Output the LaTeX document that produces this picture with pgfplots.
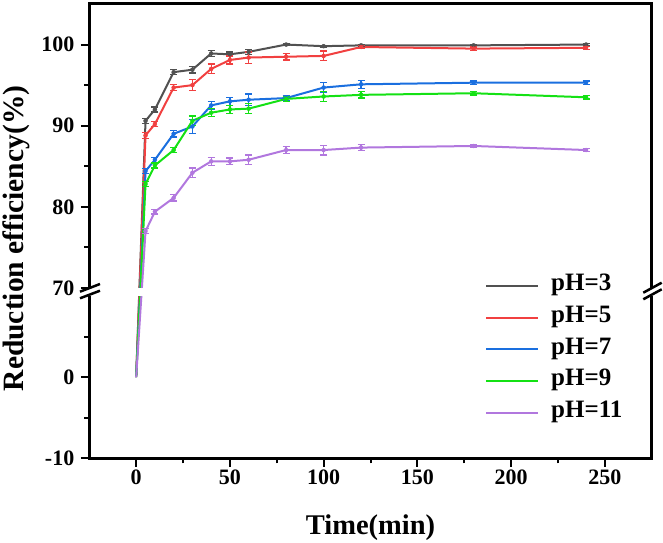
\documentclass[border=0pt]{standalone}
\usepackage{fontspec}
\setmainfont{Liberation Serif}
\usepackage{pgfplots}
\pgfplotsset{compat=1.18}
\usepackage{pgfplotstable}

\definecolor{cgray}{RGB}{81,81,81}
\definecolor{cred}{RGB}{241,64,64}
\definecolor{cblue}{RGB}{26,111,223}
\definecolor{cgreen}{RGB}{20,225,20}
\definecolor{cpurple}{RGB}{177,119,222}

\pgfplotstableread{
t y e
0 0 0
5 90.6 0.3
10 92.0 0.3
20 96.6 0.3
30 96.9 0.4
40 98.9 0.4
50 98.8 0.3
60 99.1 0.3
80 100.0 0.1
100 99.8 0.1
120 99.9 0.1
180 99.9 0.1
240 100.0 0.1
}\phthree
\pgfplotstableread{
t y e
0 0 0
5 88.8 0.4
10 90.2 0.3
20 94.7 0.4
30 95.0 0.7
40 97.0 0.6
50 98.1 0.5
60 98.4 0.7
80 98.5 0.4
100 98.6 0.6
120 99.7 0.2
180 99.5 0.2
240 99.6 0.2
}\phfive
\pgfplotstableread{
t y e
0 0 0
5 84.4 0.3
10 85.8 0.3
20 89.0 0.4
30 89.9 0.9
40 92.5 0.5
50 93.0 0.5
60 93.2 0.7
80 93.4 0.3
100 94.7 0.6
120 95.1 0.5
180 95.3 0.2
240 95.3 0.2
}\phseven
\pgfplotstableread{
t y e
0 0 0
5 82.8 0.3
10 85.1 0.3
20 87.0 0.3
30 90.6 0.6
40 91.6 0.5
50 92.0 0.5
60 92.1 0.6
80 93.3 0.3
100 93.6 0.6
120 93.8 0.4
180 94.0 0.2
240 93.5 0.2
}\phnine
\pgfplotstableread{
t y e
0 0 0
5 77.0 0.3
10 79.4 0.3
20 81.1 0.4
30 84.2 0.6
40 85.6 0.5
50 85.6 0.4
60 85.8 0.6
80 87.0 0.4
100 87.0 0.6
120 87.3 0.4
180 87.5 0.2
240 87.0 0.2
}\pheleven

\pgfplotsset{
  errstyle/.style={forget plot, only marks, mark=none, color=#1,
    restrict x to domain=1:300,
    error bars/.cd, y dir=both, y explicit,
    error bar style={color=#1, line width=1.3bp},
    error mark options={rotate=90, mark size=3.5bp, line width=1.3bp, color=#1}},
}

\begin{document}
\begin{tikzpicture}
\path[use as bounding box] (0,0) rectangle (663bp,543bp);
\begin{axis}[
  at={(89.3bp,84.7bp)}, anchor=south west,
  scale only axis, width=562.4bp, height=454.3bp,
  xmin=-25, xmax=275, ymin=-10, ymax=46,
  clip=false,
  axis line style={draw=none},
  xtick={0,50,...,250}, minor x tick num=1,
  ytick={-10,0,11,21,31,41}, yticklabels={-10,0,70,80,90,100},
  minor ytick={-5,5,16,26,36},
  xtick pos=bottom, ytick pos=left, tick align=outside,
  major tick length=8.5bp, minor tick length=5bp,
  tick style={black, line width=2bp},
  tick label style={font=\fontsize{22bp}{22bp}\selectfont\bfseries},
  yticklabel style={xshift=-3bp},
  /pgf/number format/assume math mode=true,
  y filter/.expression={y>40 ? y-59 : y},
  xlabel={Time(min)}, ylabel={Reduction efficiency(\%)},
  xlabel style={font=\fontsize{28.5bp}{28.5bp}\selectfont\bfseries,
    at={(axis description cs:0.5,-0.1688)}, anchor=base},
  ylabel style={font=\fontsize{29.5bp}{29.5bp}\selectfont\bfseries,
    at={(axis description cs:-0.1295,0.484)}, anchor=center},
  legend style={draw=none, fill=none, at={(axis description cs:0.7036,0.2401)},
    anchor=west, inner sep=0pt, row sep=11.7bp,
    font=\fontsize{25bp}{25bp}\selectfont\bfseries,
    nodes={inner sep=0pt, text height=15bp, text depth=5bp}},
  legend cell align=left,
  legend image code/.code={\draw[#1, line width=2bp] (0bp,0bp) -- (52bp,0bp); \path (64bp,0bp);},
]
\addplot[color=cgray, line width=2bp] table[x=t,y=y] {\phthree};
\addlegendentry{pH=3}
\addplot[color=cred, line width=2bp] table[x=t,y=y] {\phfive};
\addlegendentry{pH=5}
\addplot[color=cblue, line width=2bp] table[x=t,y=y] {\phseven};
\addlegendentry{pH=7}
\addplot[color=cgreen, line width=2bp] table[x=t,y=y] {\phnine};
\addlegendentry{pH=9}
\addplot[color=cpurple, line width=2bp] table[x=t,y=y] {\pheleven};
\addlegendentry{pH=11}
\addplot[errstyle=cgray] table[x=t,y=y,y error=e] {\phthree};
\addplot[errstyle=cred] table[x=t,y=y,y error=e] {\phfive};
\addplot[errstyle=cblue] table[x=t,y=y,y error=e] {\phseven};
\addplot[errstyle=cgreen] table[x=t,y=y,y error=e] {\phnine};
\addplot[errstyle=cpurple] table[x=t,y=y,y error=e] {\pheleven};
\fill[white] (rel axis cs:0,0.35714) rectangle (rel axis cs:1,0.375);
\draw[line width=3bp, line join=miter] (rel axis cs:0,0.35714) -- (rel axis cs:0,0) -- (rel axis cs:1,0) -- (rel axis cs:1,0.35714);
\draw[line width=3bp, line join=miter] (rel axis cs:0,0.375) -- (rel axis cs:0,1) -- (rel axis cs:1,1) -- (rel axis cs:1,0.375);
\end{axis}
\draw[line width=2.5bp] (80bp,251.3bp) -- (100bp,259bp);
\draw[line width=2.5bp] (80bp,244.7bp) -- (100bp,252.3bp);
\draw[line width=2.5bp] (643.3bp,250.3bp) -- (661.7bp,260.3bp);
\draw[line width=2.5bp] (643.3bp,243.7bp) -- (661.7bp,253.7bp);
\end{tikzpicture}
\end{document}
